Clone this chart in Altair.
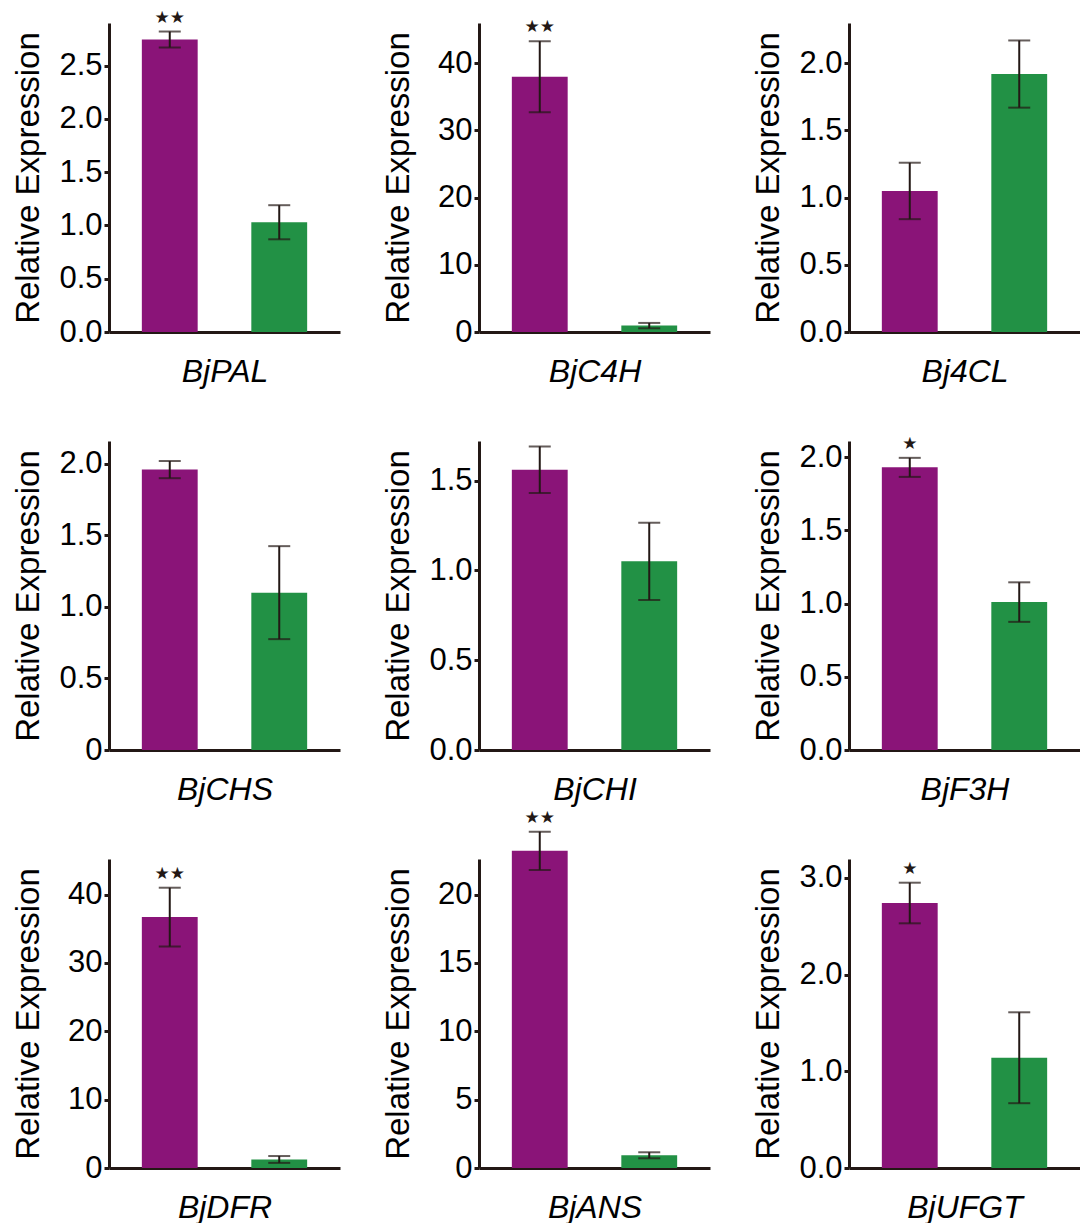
import altair as alt
import pandas as pd

genes = ["BjPAL", "BjC4H", "Bj4CL", "BjCHS", "BjCHI", "BjF3H", "BjDFR", "BjANS", "BjUFGT"]
groups = ["Purple", "Green"]
colors = ["#8A1478", "#229145"]

purple_mean = [2.745, 38.0, 1.05, 1.96, 1.56, 1.93, 36.7, 23.2, 2.74]
purple_err = [0.075, 5.3, 0.21, 0.06, 0.13, 0.065, 4.3, 1.4, 0.21]
green_mean = [1.03, 0.95, 1.92, 1.10, 1.05, 1.01, 1.25, 0.93, 1.14]
green_err = [0.16, 0.4, 0.25, 0.325, 0.215, 0.135, 0.5, 0.22, 0.47]
stars = ["★★", "★★", "", "", "", "★", "★★", "★★", "★"]

y_max = [2.9, 46, 2.3, 2.16, 1.72, 2.11, 45.2, 22.6, 3.195]
y_ticks = [
    [0, 0.5, 1.0, 1.5, 2.0, 2.5],
    [0, 10, 20, 30, 40],
    [0, 0.5, 1.0, 1.5, 2.0],
    [0, 0.5, 1.0, 1.5, 2.0],
    [0, 0.5, 1.0, 1.5],
    [0, 0.5, 1.0, 1.5, 2.0],
    [0, 10, 20, 30, 40],
    [0, 5, 10, 15, 20],
    [0, 1.0, 2.0, 3.0],
]
y_formats = [".1f", "d", ".1f", "zero", ".1f", ".1f", "d", "d", ".1f"]

ink = "#231815"
font = "Liberation Sans"

panels = []
for i, g in enumerate(genes):
    df = pd.DataFrame({
        "group": groups,
        "mean": [purple_mean[i], green_mean[i]],
        "err": [purple_err[i], green_err[i]],
        "star": [stars[i], ""],
    })
    if y_formats[i] == "zero":
        lab = "datum.value === 0 ? '0' : format(datum.value, '.1f')"
    else:
        lab = f"format(datum.value, '{y_formats[i]}')"

    xenc = alt.X(
        "group:N", sort=groups,
        scale=alt.Scale(paddingInner=0.49, paddingOuter=0.3),
        axis=alt.Axis(title=g, labels=False, ticks=False, titleFontStyle="italic"),
    )
    yscale = alt.Scale(domain=[0, y_max[i]], nice=False, zero=True)
    yaxis = alt.Axis(title="Relative Expression", values=y_ticks[i], labelExpr=lab)

    base = alt.Chart(df).transform_calculate(
        lo="datum.mean - datum.err", hi="datum.mean + datum.err"
    )
    bars = base.mark_bar().encode(
        x=xenc,
        y=alt.Y("mean:Q", scale=yscale, axis=yaxis),
        color=alt.Color("group:N", scale=alt.Scale(domain=groups, range=colors), legend=None),
    )
    rule = base.mark_rule(color=ink, strokeWidth=2).encode(
        x=xenc,
        y=alt.Y("lo:Q", scale=yscale, axis=yaxis),
        y2="hi:Q",
    )
    cap_hi = base.mark_tick(orient="horizontal", size=22, thickness=2, color=ink).encode(
        x=xenc, y=alt.Y("hi:Q", scale=yscale, axis=yaxis)
    )
    cap_lo = base.mark_tick(orient="horizontal", size=22, thickness=2, color=ink).encode(
        x=xenc, y=alt.Y("lo:Q", scale=yscale, axis=yaxis)
    )
    txt = base.mark_text(fontSize=17, baseline="bottom", dy=-5, color=ink, font="DejaVu Sans").encode(
        x=xenc, y=alt.Y("hi:Q", scale=yscale, axis=yaxis), text="star:N"
    )
    panel = alt.layer(bars, rule, cap_hi, cap_lo, txt).properties(width=231, height=309)
    panels.append(panel)

chart = alt.concat(
    *panels, columns=3, spacing={"row": 109, "column": 139}, bounds="flush"
).properties(
    padding={"left": 3, "top": 0, "right": 0, "bottom": 0}
).configure_axis(
    domainColor=ink, domainWidth=3, tickColor=ink, tickWidth=3, tickSize=5,
    labelFont=font, labelFontSize=31, labelColor="black", labelPadding=2,
    titleFont=font, titleFontSize=33, titleColor="black", titleFontWeight="normal",
    grid=False,
).configure_axisY(
    minExtent=50, maxExtent=50, titlePadding=14,
).configure_axisX(
    titleFontSize=32, titlePadding=24,
).configure_view(stroke=None)

chart.save("out.html", embed_options={"renderer": "svg", "actions": False})
